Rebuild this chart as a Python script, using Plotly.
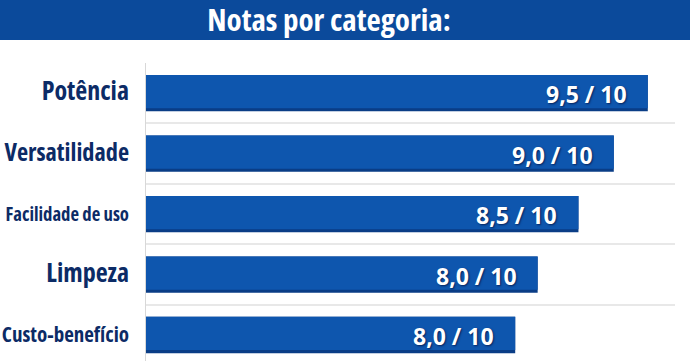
import plotly.graph_objects as go

categories = ["Potência", "Versatilidade", "Facilidade de uso", "Limpeza", "Custo-benefício"]
label_sizes = [26, 24.3, 18.7, 26, 21]
bar_lengths = [9.5, 9.0, 8.48, 7.88, 7.55]
score_labels = ["9,5 / 10", "9,0 / 10", "8,5 / 10", "8,0 / 10", "8,0 / 10"]
title_text = "Notas por categoria:"

pos = list(range(len(categories)))
cond = "Open Sans, DejaVu Sans Condensed, sans-serif"
SC = "font-stretch:condensed"

fig = go.Figure()
fig.add_trace(go.Bar(
    y=pos, x=bar_lengths, orientation="h", width=0.6, offset=-0.3,
    marker=dict(color="#0a3d86", line=dict(width=0)), hoverinfo="skip", showlegend=False,
))
fig.add_trace(go.Bar(
    y=pos, x=bar_lengths, orientation="h", width=0.55, offset=-0.3,
    marker=dict(color="#0e56ae", line=dict(width=0)), showlegend=False,
))

for i, (v, t) in enumerate(zip(bar_lengths, score_labels)):
    fig.add_annotation(
        x=v, y=i, xref="x", yref="y", text="<b>%s</b>" % t,
        showarrow=False, xanchor="right", yanchor="middle", xshift=-19, yshift=-1,
        font=dict(family="Open Sans, sans-serif", size=23, color="white",
                  shadow="1px 1px 2px rgba(0,0,40,0.6)"),
    )

ticktext = ['<b><span style="font-size:%spx;%s">%s</span></b>' % (s, SC, c)
            for c, s in zip(categories, label_sizes)]

fig.update_layout(
    width=690, height=361,
    margin=dict(l=146, r=15, t=63, b=0, autoexpand=False),
    paper_bgcolor="white", plot_bgcolor="white",
    barmode="overlay",
    title=dict(text='<b><span style="%s">%s</span></b>' % (SC, title_text),
               x=329 / 690, xref="container", xanchor="center",
               y=1 - 20 / 361, yanchor="middle", yref="container",
               font=dict(family=cond, size=31, color="white")),
    xaxis=dict(range=[2.12, 9.9], showgrid=False, zeroline=False, showticklabels=False,
               showline=False, fixedrange=True, automargin=False),
    yaxis=dict(range=[4.43, -0.5], tickvals=pos, ticktext=ticktext, showgrid=False,
               zeroline=False, showline=True, linecolor="#d8d8d8", linewidth=1,
               ticks="outside", ticklen=12, tickcolor="rgba(0,0,0,0)", automargin=False,
               tickfont=dict(family=cond, size=20, color="#0c2b66"),
               minor=dict(tickvals=[p + 0.5 for p in pos[:-1]], showgrid=True,
                          gridcolor="#e8e8e8", gridwidth=1.5, ticks="")),
    shapes=[dict(type="rect", xref="paper", yref="paper", x0=-0.4, x1=1.1,
                 y0=(361 - 40) / 298, y1=1.3, fillcolor="#0b4a9b", line=dict(width=0),
                 layer="below")],
)

fig.write_html("out.html", config={"displayModeBar": False},
               post_script="document.body.style.margin='0';")
